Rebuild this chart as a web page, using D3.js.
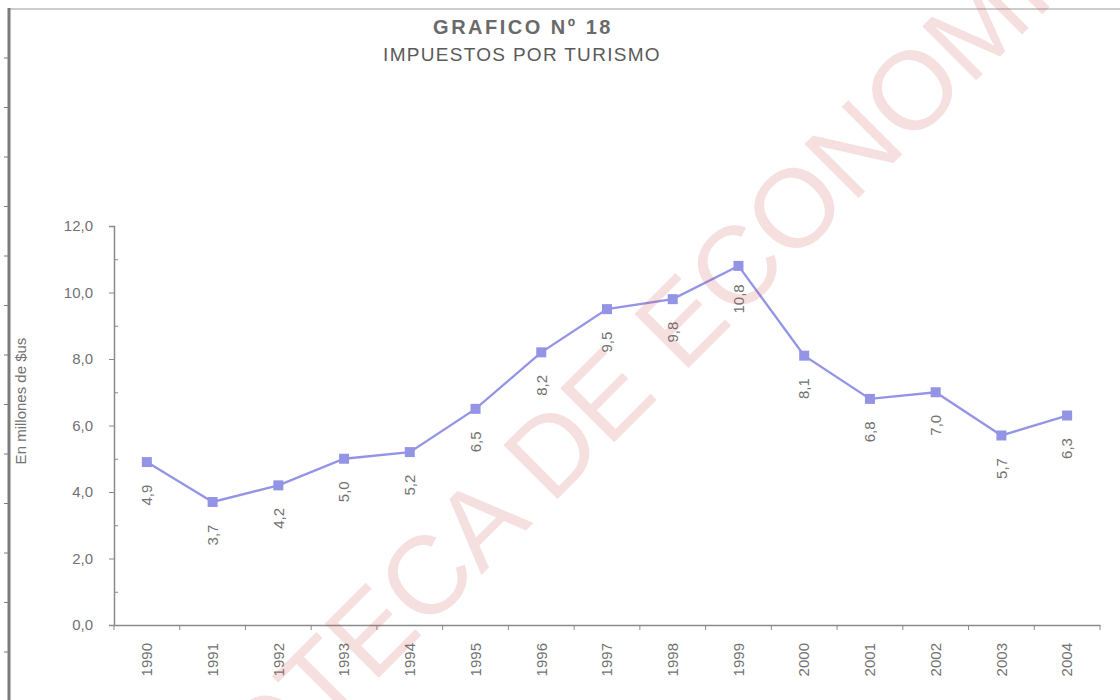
<!DOCTYPE html>
<html>
<head>
<meta charset="utf-8">
<script src="https://cdn.jsdelivr.net/npm/d3@7"></script>
<style>
  body { margin: 0; background: #fff; }
  svg { display: block; font-family: "Liberation Sans", Arial, sans-serif; }
</style>
</head>
<body>
<div id="chart"></div>
<script>
const years = ["1990", "1991", "1992", "1993", "1994", "1995", "1996", "1997",
  "1998", "1999", "2000", "2001", "2002", "2003", "2004"];
const impuestos = [4.9, 3.7, 4.2, 5.0, 5.2, 6.5, 8.2, 9.5, 9.8, 10.8, 8.1, 6.8, 7.0, 5.7, 6.3];
const yTicks = [0, 2, 4, 6, 8, 10, 12];
const yMinor = [1, 3, 5, 7, 9, 11];

const width = 1120;
const height = 700;
const lineColor = "#9494e6";
const textColor = "#727272";
const axisColor = "#8a8a8a";

const comma = v => d3.format(".1f")(v).replace(".", ",");

const svg = d3.select("#chart")
  .append("svg")
  .attr("width", width)
  .attr("height", height);

// sheet edges
svg.append("line")
  .attr("x1", 8).attr("x2", width).attr("y1", 9).attr("y2", 9)
  .style("stroke", "#bdbdbd").style("stroke-width", 1.5);
svg.append("line")
  .attr("x1", 9).attr("x2", 9).attr("y1", 8).attr("y2", height)
  .style("stroke", "#7a7a7a").style("stroke-width", 3);
svg.append("g")
  .selectAll("line")
  .data(d3.range(58, height, 49.5))
  .enter()
  .append("line")
  .attr("x1", 4).attr("x2", 8)
  .attr("y1", d => d).attr("y2", d => d)
  .style("stroke", "#7a7a7a");

const x = d3.scaleBand()
  .domain(years)
  .range([114, 1100]);

const y = d3.scaleLinear()
  .domain([0, 12])
  .range([625, 226]);

// y axis
const yAxis = svg.append("g")
  .attr("transform", "translate(114,0)")
  .call(d3.axisLeft(y).tickValues(yTicks).tickSize(5).tickPadding(16).tickFormat(comma));
yAxis.select(".domain").style("stroke", axisColor).style("stroke-width", 1.5);
yAxis.selectAll(".tick line").style("stroke", axisColor);
yAxis.selectAll("text")
  .style("font-size", "15px")
  .style("fill", textColor);

svg.append("g")
  .attr("transform", "translate(114,0)")
  .call(d3.axisRight(y).tickValues(yMinor).tickSize(4).tickFormat(""))
  .call(g => g.select(".domain").remove())
  .selectAll(".tick line").style("stroke", axisColor);

// x axis
const xAxis = svg.append("g")
  .attr("transform", "translate(0,625)")
  .call(d3.axisBottom(x).tickSize(0).tickSizeOuter(0));
xAxis.select(".domain").style("stroke", axisColor).style("stroke-width", 1.5);
xAxis.selectAll("text")
  .attr("transform", "rotate(-90)")
  .attr("x", -18)
  .attr("y", 0)
  .attr("dy", "0.35em")
  .style("text-anchor", "end")
  .style("font-size", "15px")
  .style("fill", textColor);

svg.append("g")
  .selectAll("line")
  .data(years.concat(["end"]))
  .enter()
  .append("line")
  .attr("x1", (d, i) => x.range()[0] + i * x.step())
  .attr("x2", (d, i) => x.range()[0] + i * x.step())
  .attr("y1", 625)
  .attr("y2", 630)
  .style("stroke", axisColor);

// axis title
svg.append("text")
  .attr("transform", "translate(21,401) rotate(-90)")
  .attr("dy", "0.35em")
  .style("text-anchor", "middle")
  .style("font-size", "15px")
  .style("fill", textColor)
  .text("En millones de $us");

// series
const cx = (d, i) => x(years[i]) + x.bandwidth() / 2;

svg.append("path")
  .datum(impuestos)
  .attr("d", d3.line().x(cx).y(d => y(d)))
  .style("fill", "none")
  .style("stroke", lineColor)
  .style("stroke-width", 2.3);

svg.append("g")
  .selectAll("rect")
  .data(impuestos)
  .enter()
  .append("rect")
  .attr("x", (d, i) => cx(d, i) - 5)
  .attr("y", d => y(d) - 5)
  .attr("width", 10)
  .attr("height", 10)
  .style("fill", lineColor);

svg.append("g")
  .selectAll("text")
  .data(impuestos)
  .enter()
  .append("text")
  .attr("transform", (d, i) => `translate(${cx(d, i)},${y(d) + 33}) rotate(-90)`)
  .attr("dy", "0.35em")
  .style("text-anchor", "middle")
  .style("font-size", "15px")
  .style("fill", textColor)
  .text(d => comma(d));

// titles
svg.append("text")
  .attr("x", 523)
  .attr("y", 34)
  .style("text-anchor", "middle")
  .style("font-size", "20px")
  .style("font-weight", "bold")
  .style("letter-spacing", "2.5px")
  .style("fill", "#6a6a6a")
  .text("GRAFICO Nº 18");

svg.append("text")
  .attr("x", 522)
  .attr("y", 61)
  .style("text-anchor", "middle")
  .style("font-size", "19px")
  .style("letter-spacing", "1.3px")
  .style("fill", "#5a5a5a")
  .text("IMPUESTOS POR TURISMO");

// watermark
svg.append("text")
  .attr("transform", "translate(562,438) rotate(-45)")
  .attr("dy", "0.36em")
  .style("text-anchor", "middle")
  .style("font-size", "111px")
  .style("fill", "#c84a4a")
  .style("opacity", 0.17)
  .text("BIBLIOTECA DE ECONOMIA");
</script>
</body>
</html>
